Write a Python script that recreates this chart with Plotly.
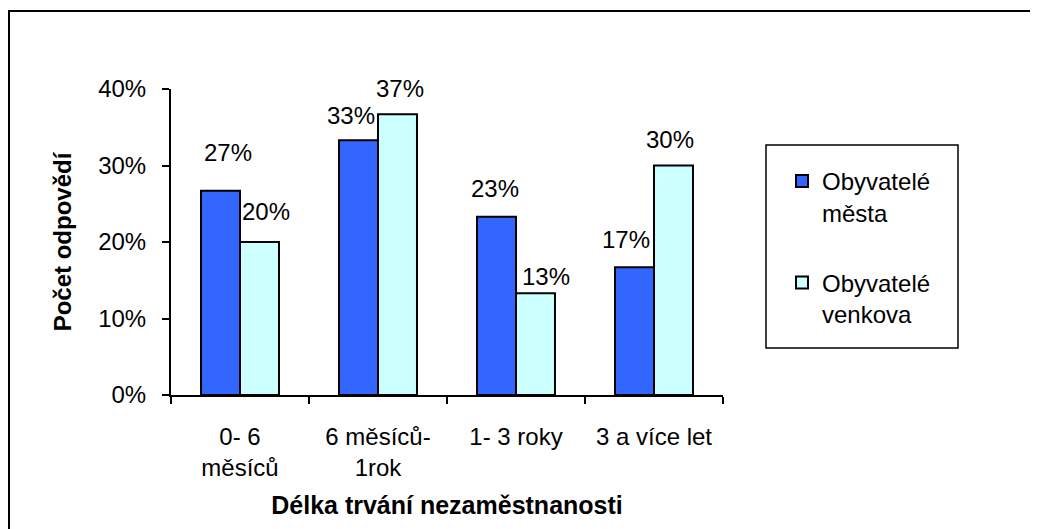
import plotly.graph_objects as go

categories = ["0- 6<br>měsíců", "6 měsíců-<br>1rok", "1- 3 roky", "3 a více let"]
mesto = [26.7, 33.3, 23.3, 16.7]
venkov = [20.0, 36.7, 13.3, 30.0]
series_names = ["Obyvatelé<br>města", "Obyvatelé<br>venkova"]
y_ticks = [0, 10, 20, 30, 40]
y_tick_labels = ["0%", "10%", "20%", "30%", "40%"]

# label nudges (pixels): (dx, dy above bar top to label centre)
nudge_mesto = [(7, 38), (-8, 25), (-2, 28), (-9, 28)]
nudge_venkov = [(7, 31), (3, 26), (11, 17), (-3, 26)]

FONT = "Liberation Sans, Arial, sans-serif"
FS = 24
OFF = 8  # page body margin
W, H = 1038, 529
L, T = 171 - OFF, 89 - OFF
R = W - (723 - OFF)
B = H - (395 - OFF)
plot_w = W - L - R
plot_h = H - T - B
cat_w = plot_w / len(categories)
bargap = 0.435
bar_w = (1 - bargap) / 2 * cat_w

def px_x(p):
    return (p - OFF - L) / plot_w

def px_y(p):
    return (H - B - (p - OFF)) / plot_h

fig = go.Figure()
fig.add_trace(go.Bar(
    x=categories, y=mesto, name=series_names[0], legendgroup="a",
    marker=dict(color="#3366FF", line=dict(color="black", width=2)),
))
fig.add_trace(go.Bar(
    x=categories, y=venkov, name=series_names[1], legendgroup="b",
    marker=dict(color="#CCFFFF", line=dict(color="black", width=2)),
))

annotations = []
for vals, nudges, sign in ((mesto, nudge_mesto, -1), (venkov, nudge_venkov, 1)):
    for c, v, (dx, dy) in zip(categories, vals, nudges):
        annotations.append(dict(
            x=c, y=v, xref="x", yref="y", text=f"{v:.0f}%", showarrow=False,
            xshift=sign * bar_w / 2 + dx, yshift=dy,
            xanchor="center", yanchor="middle",
            font=dict(family=FONT, size=FS, color="black"),
        ))

shapes = [
    # outer chart border
    dict(type="rect", xref="paper", yref="paper",
         x0=px_x(9), x1=px_x(1300), y0=px_y(11), y1=px_y(800),
         line=dict(color="black", width=2), fillcolor="rgba(0,0,0,0)", layer="below"),
    # legend box
    dict(type="rect", xref="paper", yref="paper",
         x0=px_x(766), x1=px_x(958), y0=px_y(145), y1=px_y(348),
         line=dict(color="black", width=1.5), fillcolor="rgba(0,0,0,0)"),
]

fig.update_layout(
    width=W, height=H,
    margin=dict(l=L, r=R, t=T, b=B, pad=0),
    paper_bgcolor="white", plot_bgcolor="white",
    font=dict(family=FONT, size=FS, color="black"),
    barmode="group", bargap=bargap, bargroupgap=0,
    showlegend=True,
    legend=dict(
        x=px_x(782), xanchor="left", y=px_y(159), yanchor="top",
        bgcolor="rgba(0,0,0,0)", borderwidth=0,
        font=dict(family=FONT, size=FS, color="black"),
        traceorder="grouped", tracegroupgap=36, valign="top",
    ),
    annotations=annotations,
    shapes=shapes,
    xaxis=dict(
        showline=True, linecolor="black", linewidth=2,
        ticks="outside", tickson="boundaries", ticklen=7, tickwidth=2, tickcolor="black",
        showgrid=False, ticklabelstandoff=19,
        tickfont=dict(family=FONT, size=FS, color="black"),
        title=dict(text="<b>Délka trvání nezaměstnanosti</b>", standoff=16,
                   font=dict(family=FONT, size=25, color="black")),
    ),
    yaxis=dict(
        range=[0, 40], tickvals=y_ticks, ticktext=y_tick_labels,
        showline=True, linecolor="black", linewidth=2,
        ticks="outside", ticklen=7, tickwidth=2, tickcolor="black",
        showgrid=False, zeroline=False, ticklabelstandoff=11,
        tickfont=dict(family=FONT, size=FS, color="black"),
        title=dict(text="<b>Počet odpovědí</b>", standoff=20,
                   font=dict(family=FONT, size=FS, color="black")),
    ),
)

fig.write_html("out.html")
